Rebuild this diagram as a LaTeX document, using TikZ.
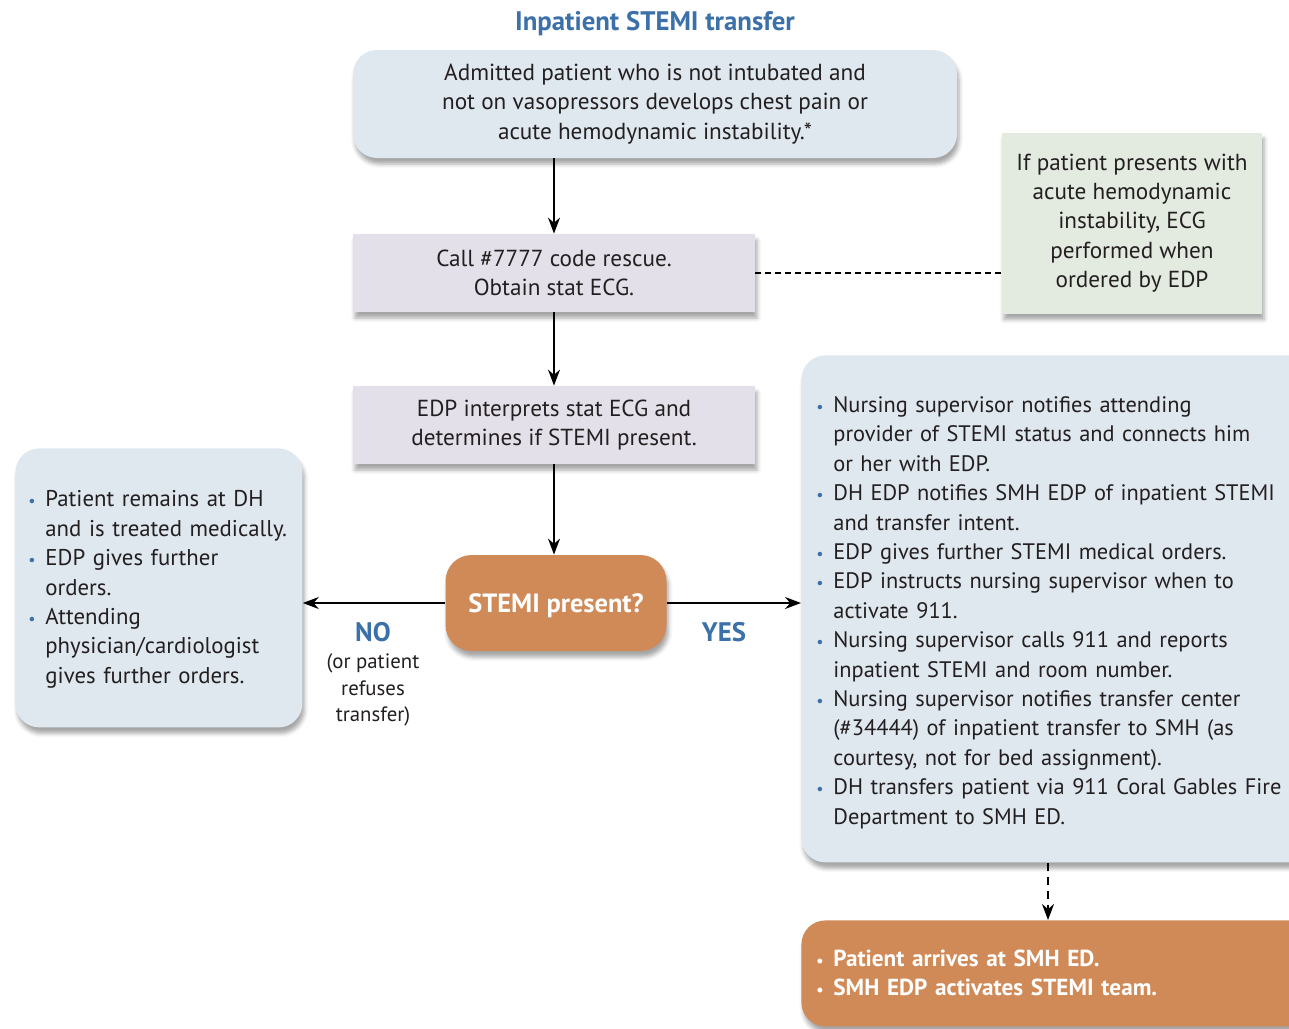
\documentclass[tikz,border=0pt]{standalone}
\usepackage{fontspec}
\setmainfont{PT Sans}
\usetikzlibrary{arrows.meta,shadows.blur,positioning}

\definecolor{stemiblue}{HTML}{3B70A8}
\definecolor{txtgray}{HTML}{231F20}
\definecolor{boxblue}{HTML}{DFE7EF}
\definecolor{boxlilac}{HTML}{E4E0EA}
\definecolor{boxgreen}{HTML}{E3EBE1}
\definecolor{boxorange}{HTML}{D08A58}

\newcommand{\bitem}[1]{\par\noindent\hangindent=8.5pt\hangafter=1%
  \makebox[8.5pt][l]{\textcolor{stemiblue}{\footnotesize\textbullet}}#1\par}
\newcommand{\witem}[1]{\par\noindent\hangindent=8.5pt\hangafter=1%
  \makebox[8.5pt][l]{\footnotesize\textbullet}#1\par}

\tikzset{
  basebox/.style={text=txtgray, inner sep=0pt,
    font=\fontsize{11.6}{14.7}\selectfont,
    blur shadow={shadow xshift=1pt, shadow yshift=-3pt, shadow opacity=35}},
  roundbox/.style={basebox, fill=boxblue, rounded corners=12pt},
  listbox/.style={roundbox, anchor=north west, align=left},
  stepbox/.style={basebox, fill=boxlilac, minimum width=201pt, minimum height=39pt,
    align=center},
  askbox/.style={basebox, fill=boxorange, rounded corners=13pt, text=white, text depth=0pt,
    font=\fontsize{13.2}{15}\selectfont\bfseries},
  flow/.style={line width=0.8pt, -{Stealth[length=8pt,width=6pt]}},
  answer/.style={text=stemiblue, font=\fontsize{13.4}{15}\selectfont\bfseries}
}

\begin{document}
\begin{tikzpicture}[x=0.5pt, y=-0.5pt]
%      \draw[help lines] (0,0) grid (1289,1028);
      \useasboundingbox (0,0) rectangle (1289,1028);

      \node[answer] (title) at (655,24) {Inpatient STEMI transfer};

      \node[roundbox, minimum width=302pt, minimum height=54pt, align=center] (admit) at (655,104)
        {Admitted patient who is not intubated and\\ not on vasopressors develops chest pain or\\ acute hemodynamic instability.*};

      \node[stepbox] (call) at (554,273) {Call \#7777 code rescue.\\ Obtain stat ECG.};
      \node[stepbox] (interp) at (554,425) {EDP interprets stat ECG and\\ determines if STEMI present.};

      \node[basebox, fill=boxgreen, minimum width=130pt, minimum height=90.5pt, align=center] (note) at (1132,223)
        {If patient presents with\\ acute hemodynamic\\ instability, ECG\\ performed when\\ ordered by EDP};

      \node[askbox, minimum width=110.5pt, minimum height=48pt] (ask) at (556,603) {STEMI present?};

      \node[listbox, inner xsep=6.5pt, text width=130.5pt, minimum height=139.5pt,
        font=\fontsize{11.4}{14.7}\selectfont] (stay) at (15,448)
        {\bitem{Patient remains at DH\newline and is treated medically.}
         \bitem{EDP gives further\newline orders.}
         \bitem{Attending\newline physician/cardiologist\newline gives further orders.}\vspace{5pt}};

      \node[listbox, inner xsep=7.5pt, text width=242pt, minimum height=253.5pt,
        font=\fontsize{11.2}{14.7}\selectfont] (move) at (801,355)
        {\bitem{Nursing supervisor notifies attending\newline provider of STEMI status and connects him\newline or her with EDP.}
         \bitem{DH EDP notifies SMH EDP of inpatient STEMI\newline and transfer intent.}
         \bitem{EDP gives further STEMI medical orders.}
         \bitem{EDP instructs nursing supervisor when to\newline activate 911.}
         \bitem{Nursing supervisor calls 911 and reports\newline inpatient STEMI and room number.}
         \bitem{Nursing supervisor notifies transfer center\newline (\#34444) of inpatient transfer to SMH (as\newline courtesy, not for bed assignment).}
         \bitem{DH transfers patient via 911 Coral Gables Fire\newline Department to SMH ED.}\vspace{3pt}};

      \node[listbox, fill=boxorange, text=white, inner xsep=7.5pt, text width=242pt, minimum height=53pt,
        font=\fontsize{11.6}{14.7}\selectfont\bfseries] (arrive) at (801,920)
        {\witem{Patient arrives at SMH ED.}
         \witem{SMH EDP activates STEMI team.}\vspace{7pt}};

      \node[answer] (no) at (373,632) {NO};
      \node[text=txtgray, align=center, font=\fontsize{10.4}{13.2}\selectfont, below=-1pt of no] (nonote) {(or patient\\ refuses\\ transfer)};
      \node[answer] (yes) at (724,632) {YES};

      \draw[flow] (admit.south -| call.north) -- (call.north);
      \draw[flow] (call) -- (interp);
      \draw[flow] (interp.south) -- (interp.south |- ask.north);
      \draw[flow] (ask) -- (stay.east |- ask.west);
      \draw[flow] (ask) -- (move.west |- ask.east);
      \draw[line width=0.6pt, dash pattern=on 3pt off 2pt] (call) -- (note.west |- call.east);
      \draw[flow, line width=1pt, dash pattern=on 4pt off 3pt] (move.south -| 1048,0) -- (arrive.north -| 1048,0);
\end{tikzpicture}
\end{document}
